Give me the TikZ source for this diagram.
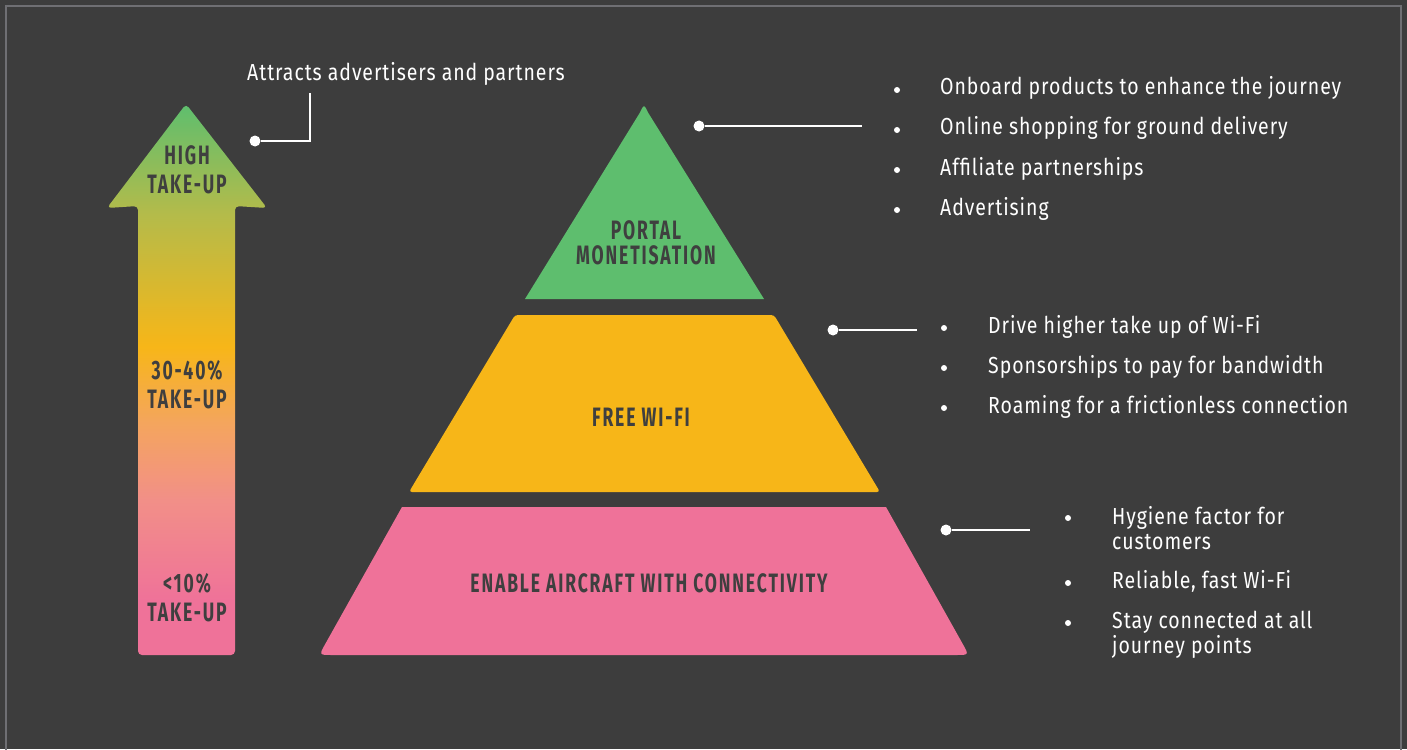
\documentclass[tikz,border=0pt]{standalone}
\usepackage{fontspec}
\setmainfont{Fira Sans}[FakeStretch=0.84,LetterSpace=4]
\newfontfamily\tierfont{Fira Sans}[FakeStretch=0.66,LetterSpace=7]
\usepackage{xcolor}

\definecolor{bgc}{HTML}{3D3D3D}
\definecolor{framec}{HTML}{6F6F73}
\definecolor{greenc}{HTML}{5EBE6E}
\definecolor{yellowc}{HTML}{F7B618}
\definecolor{pinkc}{HTML}{EF7299}
\definecolor{olivec}{HTML}{B4BB4A}
\definecolor{orangec}{HTML}{F4A55E}
\definecolor{salmonc}{HTML}{F28F88}
\definecolor{labelc}{HTML}{3F3F3F}

\pgfdeclareverticalshading{takeup}{100bp}{color(0bp)=(pinkc); color(30bp)=(pinkc);
  color(39bp)=(salmonc); color(46bp)=(orangec); color(53bp)=(yellowc);
  color(65bp)=(olivec); color(75bp)=(greenc); color(100bp)=(greenc)}

\begin{document}
\begin{tikzpicture}[x=1pt, y=-1pt,
    tier/.style={font=\tierfont\bfseries\fontsize{26.6}{25}\selectfont, text=labelc, align=center},
    rate/.style={tier, font=\tierfont\bfseries\fontsize{26.6}{29}\selectfont},
    item/.style={font=\fontsize{23.2}{25}\selectfont, text=white, anchor=base west, inner sep=0pt, align=left},
    pin/.style={circle, fill=white, inner sep=0pt, minimum size=11pt},
    bullet/.style={circle, fill=white, inner sep=0pt, minimum size=6pt},
    callout/.style={draw=white, line width=2.5pt}]
    \useasboundingbox (0,0) rectangle (1407,749);
    \fill[bgc] (0,0) rectangle (1407,749);
    \draw[framec, line width=2pt] (6,6) rectangle (1401,780);

    % take-up arrow
    \shade[shading=takeup, rounded corners=4pt] (186,104) -- (267,208) -- (235,206) -- (235,655)
        -- (138,655) -- (138,206) -- (107,208) -- cycle;
    \node[rate] (high) at (187,170) {HIGH\\TAKE-UP};
    \node[rate] (mid) at (187,385) {30-40\%\\TAKE-UP};
    \node[rate] (low) at (187,598) {<10\%\\TAKE-UP};

    % pyramid
    \fill[greenc] (525,299) -- (639.8,112.8) .. controls (644,104) .. (648.2,112.8) -- (764,299) -- cycle;
    \fill[yellowc, rounded corners=3pt] (515,315) -- (774,315) -- (880,492) -- (409,492) -- cycle;
    \fill[pinkc] (402,507) -- (886,507) -- (962.6,643.7) .. controls (969,655) .. (956,655)
        -- (332,655) .. controls (319,655) .. (325.4,643.7) -- cycle;
    \node[tier] (portal) at (646,243) {PORTAL\\MONETISATION};
    \node[tier] (wifi) at (641,417) {FREE WI-FI};
    \node[tier] (enable) at (649,583) {ENABLE AIRCRAFT WITH CONNECTIVITY};

    % advertisers callout
    \node[item] (attract) at (247,81) {Attracts advertisers and partners};
    \node[pin] (adpin) at (255,141) {};
    \coordinate (adend) at (310,93);
    \draw[callout] (adpin) -- (adpin -| adend) -- (adend);

    % portal callout
    \node[pin] (portalpin) at (699,126) {};
    \coordinate (portalend) at (862,126);
    \draw[callout] (portalpin) -- (portalend);
    \node[bullet] (pb1) at (897,90) {};
    \node[bullet] (pb2) at (897,130) {};
    \node[bullet] (pb3) at (897,170) {};
    \node[bullet] (pb4) at (897,210) {};
    \node[item] (p1) at (940,95) {Onboard products to enhance the journey};
    \node[item] (p2) at (940,135) {Online shopping for ground delivery};
    \node[item] (p3) at (940,175) {Affiliate partnerships};
    \node[item] (p4) at (940,215) {Advertising};

    % wi-fi callout
    \node[pin] (wifipin) at (833,330) {};
    \coordinate (wifiend) at (917,330);
    \draw[callout] (wifipin) -- (wifiend);
    \node[bullet] (wb1) at (944,328) {};
    \node[bullet] (wb2) at (944,368) {};
    \node[bullet] (wb3) at (944,408) {};
    \node[item] (w1) at (988,333) {Drive higher take up of Wi-Fi};
    \node[item] (w2) at (988,373) {Sponsorships to pay for bandwidth};
    \node[item] (w3) at (988,413) {Roaming for a frictionless connection};

    % connectivity callout
    \node[pin] (enablepin) at (946,530) {};
    \coordinate (enableend) at (1030,530);
    \draw[callout] (enablepin) -- (enableend);
    \node[bullet] (eb1) at (1068,518) {};
    \node[bullet] (eb2) at (1068,583) {};
    \node[bullet] (eb3) at (1068,623) {};
    \node[item, anchor=north west] (e1) at (1112,506) {Hygiene factor for\\customers};
    \node[item] (e2) at (1112,588) {Reliable, fast Wi-Fi};
    \node[item, anchor=north west] (e3) at (1112,611) {Stay connected at all\\journey points};
\end{tikzpicture}
\end{document}
